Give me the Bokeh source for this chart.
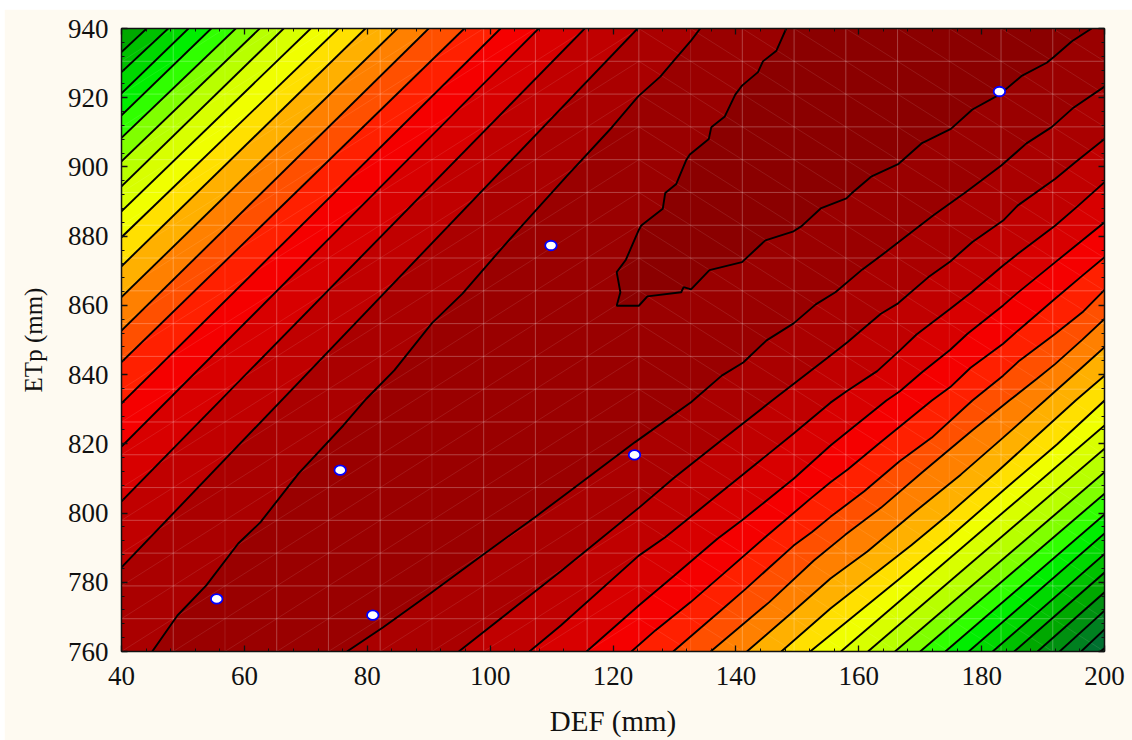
import numpy as np
from bokeh.plotting import figure
from bokeh.models import Range1d, LinearAxis, SingleIntervalTicker, CustomJSTickFormatter
from bokeh.embed import file_html
from bokeh.resources import INLINE

# ---- axis data
x_title = "DEF (mm)"
y_title = "ETp (mm)"

# ---- observed points
points_def = [55.5, 75.6, 80.9, 109.9, 123.5, 182.9]
points_etp = [775.2, 812.4, 770.5, 877.3, 816.8, 921.8]

# ---- contours of the upper-left flank: they run from the left edge to the top edge
upper_left_y = [933.2, 927.4, 921.3, 914.9, 908.4, 901.6, 894.4, 887.2, 879.7,
                871.3, 862.4, 852.7, 843.6, 831.7, 819.2, 803.4, 784.3]
upper_top_x = [44.1, 47.6, 50.9, 54.6, 58.6, 62.5, 66.4, 70.8, 75.3,
               79.7, 84.9, 90.0, 95.8, 101.7, 107.9, 115.4, 124.0]

# ---- contour bounding the valley on its upper side
valley_upper_x = [45.0, 49.1, 53.8, 59.0, 62.6, 68.8, 76.1, 79.9, 84.4, 90.5, 95.5,
                  102.0, 104.9, 112.4, 119.8, 124.1, 127.7, 129.8, 132.7, 134.2]
valley_upper_y = [760, 770.4, 779.1, 791.2, 797.3, 811.4, 825.3, 833.1, 841.2, 854.8, 863.4,
                  876.7, 882.5, 897.2, 911.4, 920.4, 926.1, 930.5, 936.5, 940]

# ---- contour bounding the valley on its lower side
valley_lower_x = [76.7, 82.6, 90.2, 99.0, 107.3, 112.4, 123.6, 132.7, 137.7, 141.2, 145.0,
                  149.4, 153.0, 156.2, 160.6, 164.4, 168.3, 172.1, 177.4, 183.2, 187.3,
                  191.4, 195.0, 200]
valley_lower_y = [760, 767, 776.7, 788.2, 798.8, 805.6, 820.5, 832, 839.7, 843.5, 849.9,
                  854.8, 860.3, 863.8, 870.4, 875.4, 880.8, 886, 892.7, 900.4, 906.8,
                  911.5, 917.2, 923.2]

# ---- innermost contour (closed against the top edge)
inner_x = [148.2, 146.6, 144.4, 143.6, 141.0, 139.9, 138.2, 136.0, 135.6, 132.5, 131.9, 130.3,
           128.5, 128.1, 124.6, 124.2, 122.1, 120.6, 121.2, 120.6, 124.2, 125.6, 131.1, 131.5,
           132.7, 135.7, 141.0, 144.8, 149.4, 150.7, 153.8, 158.0, 158.8, 162.1, 166.5, 170.3,
           175.0, 178.5, 182.9, 186.6, 190.6, 191.7, 194.7, 197.9]
inner_y = [940, 933.6, 930.5, 927.4, 923.5, 920.9, 914.6, 911.5, 908.1, 903.6, 901.9, 895.1,
           892.5, 887.9, 883.1, 881.8, 873.2, 869.6, 863.8, 859.9, 859.9, 862.6, 863.8, 865.3,
           864.6, 870.2, 872.5, 878.8, 881.4, 882.9, 888, 890.9, 892.3, 897.3, 900.9, 906.9,
           911, 916.6, 920.9, 926.4, 930.1, 931.7, 936.3, 940]

# ---- contours of the lower-right flank: bottom edge to right edge
lower_bottom_x = [94.9, 106.4, 115.7, 123.0, 129.8, 135.9, 141.8, 147.4, 152.1, 157.1, 161.5,
                  165.9, 170.0, 174.1, 177.9, 181.8, 185.3, 189.1, 192.7, 196.2, 199.3]
lower_right_y = [908.1, 895.6, 884.0, 873.9, 864.5, 856.1, 847.9, 839.7, 832.5, 825.3, 818.6,
                 811.8, 805.6, 799.6, 794.1, 788.2, 782.8, 777.1, 771.8, 766.4, 760.9]
# read-off waypoints along the first nine of them
lower_mid_x = [
    [111.5, 124.2, 129.9, 137.5, 145.9, 155.4, 158.2, 160.1, 163.6, 166.4, 171.3, 174.9, 178.5,
     183.5, 185.9, 192.0, 195.3],
    [111.5, 124.2, 128.5, 135.9, 141.0, 149.4, 155.4, 158.2, 163.0, 166.7, 169.4, 174.9, 178.2,
     183.5, 185.9, 192.0, 195.6],
    [124.2, 129.9, 137.0, 141.0, 149.4, 155.4, 164.5, 166.7, 170.3, 174.9, 177.7, 183.5, 185.7,
     192.0, 196.4],
    [126.9, 132.6, 138.0, 145.1, 152.1, 155.4, 158.2, 163.5, 171.9, 174.9, 178.2, 183.5, 185.9,
     192.0, 196.4],
    [137.5, 141.6, 149.4, 152.4, 155.4, 160.9, 166.6, 171.9, 178.5, 183.5, 186.2, 192.0, 196.4],
    [145.4, 152.7, 157.8, 163.6, 170.3, 178.5, 184.5, 189.0, 192.0, 196.4],
    [148.9, 155.4, 161.4, 168.6, 176.6, 183.5, 190.3, 196.1],
    [155.4, 160.9, 168.6, 174.6, 182.4, 188.4, 195.3],
    [158.6, 166.7, 174.6, 183.7, 192.3],
]
lower_mid_y = [
    [783.2, 801.5, 810.1, 820.8, 832.5, 845.5, 849.4, 852.3, 857.6, 860.6, 868.1, 872.7, 878.3,
     884.5, 888.9, 896.6, 901.4],
    [767.5, 787.7, 793.0, 803.6, 810.9, 823.0, 831.9, 835.4, 841.0, 847.0, 851.6, 859.0, 863.6,
     871.5, 874.9, 883.1, 888.6],
    [773.3, 781.8, 792.6, 797.9, 809.9, 819.5, 832.5, 835.2, 840.7, 847.2, 851.8, 860.0, 863.4,
     872.5, 878.8],
    [766.1, 774.2, 782.5, 793.5, 804.1, 808.9, 812.6, 820.4, 832.5, 836.4, 842.0, 848.9, 852.7,
     862.0, 868.6],
    [771.8, 778.1, 790.6, 794.5, 798.9, 806.3, 814.9, 821.8, 832.5, 839.7, 844.1, 851.8, 858.0],
    [774.2, 786.3, 793.7, 801.5, 811.7, 823.9, 832.5, 838.8, 843.1, 850.1],
    [770.9, 781.1, 788.9, 799.6, 811.1, 821.8, 832.5, 841.7],
    [772.4, 780.1, 790.8, 799.6, 811.7, 821.4, 832.5],
    [769.4, 781.1, 792.7, 806.8, 819.9],
]

# ---- band colours, from the valley floor outward
inner_color = "#8B0000"
valley_color = "#9A0000"
band_colors = ["#AA0000", "#C00000", "#D80000", "#F50000", "#FF2000", "#FF5000", "#FF8000",
               "#FFB000", "#FFE000", "#F0FF00", "#D8FF00", "#B8FF00", "#80FF00", "#30FF00",
               "#00EE00", "#00D800", "#00C000", "#00A800", "#009010", "#008020", "#007030",
               "#006830"]

# ---- surface mesh: 20 x 20 nodes
mesh_def = np.linspace(40, 200, 20)
mesh_etp = np.linspace(760, 940, 20)
dim_columns = [2, 6, 11, 16]
diagonal_flip = 10

CREAM = "#FEFAF1"
xmin, xmax, ymin, ymax = 40, 200, 760, 940

p = figure(frame_width=983, frame_height=623, min_border_left=117, min_border_right=28,
           min_border_top=19, min_border_bottom=89, output_backend="svg", toolbar_location=None,
           x_range=Range1d(xmin, xmax), y_range=Range1d(ymin, ymax),
           background_fill_color=valley_color, border_fill_color=CREAM)
p.outline_line_color = None
p.grid.visible = False

# assemble contour polylines
upper_lines = [([xmin, tx], [ly, ymax]) for ly, tx in zip(upper_left_y, upper_top_x)]
upper_lines.append((valley_upper_x, valley_upper_y))            # closest to the valley
lower_lines = [(valley_lower_x, valley_lower_y)]
for k, (bx, ry) in enumerate(zip(lower_bottom_x, lower_right_y)):
    mx = lower_mid_x[k] if k < len(lower_mid_x) else []
    my = lower_mid_y[k] if k < len(lower_mid_y) else []
    lower_lines.append(([bx] + list(mx) + [xmax], [ymin] + list(my) + [ry]))

# painter's fill: largest region first
fx, fy, fc = [], [], []
for k in range(len(upper_lines) - 1, -1, -1):
    lx, ly = upper_lines[k]
    cx = list(lx) + [xmin]
    cy = list(ly) + [ymax]
    if ly[0] == ymin:
        cx.append(xmin)
        cy.append(ymin)
    fx.append(cx)
    fy.append(cy)
    fc.append(band_colors[len(upper_lines) - 1 - k])
for k, (lx, ly) in enumerate(lower_lines):
    cx = list(lx) + [xmax]
    cy = list(ly) + [ymin]
    fx.append(cx)
    fy.append(cy)
    fc.append(band_colors[k])
fx.append(inner_x)
fy.append(inner_y)
fc.append(inner_color)
p.patches(fx, fy, fill_color=fc, line_color=None)

# mesh
col_x = [[v, v] for i, v in enumerate(mesh_def) if i not in dim_columns and 0 < i < 19]
col_y = [[ymin, ymax] for _ in col_x]
dim_x = [[mesh_def[i], mesh_def[i]] for i in dim_columns]
dim_y = [[ymin, ymax] for _ in dim_x]
row_x = [[xmin, xmax] for _ in mesh_etp[1:-1]]
row_y = [[v, v] for v in mesh_etp[1:-1]]
p.multi_line(col_x + row_x, col_y + row_y, line_color="white", line_alpha=0.26, line_width=1)
p.multi_line(dim_x, dim_y, line_color="white", line_alpha=0.1, line_width=1)
dx, dy = [], []
for i in range(19):
    for j in range(19):
        dx.append([mesh_def[i], mesh_def[i + 1]])
        dy.append([mesh_etp[j], mesh_etp[j + 1]] if i < diagonal_flip else [mesh_etp[j + 1], mesh_etp[j]])
p.multi_line(dx, dy, line_color="white", line_alpha=0.16, line_width=0.6)

# contour lines
all_lines = upper_lines + lower_lines + [(inner_x, inner_y)]
p.multi_line([list(a) for a, _ in all_lines], [list(b) for _, b in all_lines],
             line_color="black", line_width=1.9)

# points
p.ellipse(points_def, points_etp, width=11.5, height=9.5, width_units="screen", height_units="screen",
          fill_color="white", line_color="#0000FF", line_width=1.8)


def style(ax, labels=True):
    ax.ticker = SingleIntervalTicker(interval=20, num_minor_ticks=5)
    ax.major_tick_in = 6
    ax.major_tick_out = 0
    ax.minor_tick_in = 3
    ax.minor_tick_out = 0
    ax.axis_line_color = "#111111"
    ax.axis_line_width = 1.5
    ax.major_tick_line_color = "#111111"
    ax.major_tick_line_width = 1.3
    ax.minor_tick_line_color = "#111111"
    ax.minor_tick_line_width = 1
    if labels:
        ax.major_label_text_font = "Liberation Serif"
        ax.major_label_text_font_size = "27px"
        ax.major_label_text_color = "#111111"
        ax.axis_label_text_font = "Liberation Serif"
        ax.axis_label_text_font_style = "normal"
        ax.axis_label_text_color = "#111111"
    else:
        ax.formatter = CustomJSTickFormatter(code="return ''")
        ax.major_label_text_font_size = "1px"


style(p.xaxis[0])
style(p.yaxis[0])
p.xaxis[0].axis_label = x_title
p.yaxis[0].axis_label = y_title
p.xaxis[0].axis_label_text_font_size = "29px"
p.yaxis[0].axis_label_text_font_size = "25px"
p.xaxis[0].major_label_standoff = 15
p.yaxis[0].major_label_standoff = 13
p.xaxis[0].axis_label_standoff = 17
p.yaxis[0].axis_label_standoff = 18

top_axis = LinearAxis()
right_axis = LinearAxis()
style(top_axis, labels=False)
style(right_axis, labels=False)
p.add_layout(top_axis, "above")
p.add_layout(right_axis, "right")

html = file_html(p, INLINE)
html = html.replace("</head>", "<style>html,body{margin:0;background:#fff;overflow:hidden;}body{padding:9px 0 0 4px;}</style></head>", 1)
open("out.html", "w").write(html)
